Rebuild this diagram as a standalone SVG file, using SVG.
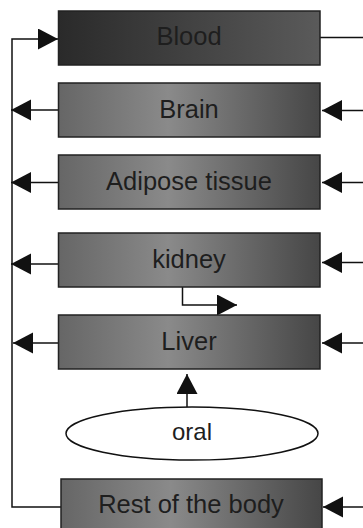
<svg xmlns="http://www.w3.org/2000/svg" width="363" height="528" viewBox="0 0 363 528">
<defs>
<linearGradient id="gDark" x1="0" y1="0" x2="1" y2="0">
<stop offset="0" stop-color="#2a2a2a"/>
<stop offset="1" stop-color="#5a5a5a"/>
</linearGradient>
<linearGradient id="gMid" x1="0" y1="0" x2="1" y2="0">
<stop offset="0" stop-color="#666666"/>
<stop offset="0.42" stop-color="#8a8a8a"/>
<stop offset="1" stop-color="#464646"/>
</linearGradient>
<marker id="ah" markerUnits="userSpaceOnUse" markerWidth="21" markerHeight="22" refX="20" refY="10.5" orient="auto">
<path d="M0,0 L20,10.5 L0,21 z" fill="#111"/>
</marker>
</defs>
<style>
.box{stroke:#222;stroke-width:1.5}
.lbl{font-family:"Liberation Sans",Arial,sans-serif;font-size:25.5px;fill:#1e1e1e;text-anchor:middle}
.ln{fill:none;stroke:#111;stroke-width:1.5}
</style>
<g id="connectors">
<path class="ln" d="M61,507 H12 V39 H58" marker-end="url(#ah)"/>
<path class="ln" d="M320,37.5 H363"/>
<path class="ln" d="M58,110 H11" marker-end="url(#ah)"/>
<path class="ln" d="M363,110.5 H322" marker-end="url(#ah)"/>
<path class="ln" d="M58,182.5 H11" marker-end="url(#ah)"/>
<path class="ln" d="M363,182.5 H322" marker-end="url(#ah)"/>
<path class="ln" d="M58,264 H11" marker-end="url(#ah)"/>
<path class="ln" d="M363,262.5 H322" marker-end="url(#ah)"/>
<path class="ln" d="M182.5,287 V305 H237" marker-end="url(#ah)"/>
<path class="ln" d="M58,343 H13" marker-end="url(#ah)"/>
<path class="ln" d="M363,343 H322" marker-end="url(#ah)"/>
<path class="ln" d="M187,407 V374" marker-end="url(#ah)"/>
<path class="ln" d="M363,507 H323" marker-end="url(#ah)"/>
</g>
<g id="blood">
<rect class="box" x="58.5" y="11" width="261.5" height="54" fill="url(#gDark)"/>
<text class="lbl" x="189" y="45">Blood</text>
</g>
<g id="brain">
<rect class="box" x="58.5" y="83" width="261.5" height="54" fill="url(#gMid)"/>
<text class="lbl" x="189" y="118">Brain</text>
</g>
<g id="adipose">
<rect class="box" x="58.5" y="155" width="261.5" height="54" fill="url(#gMid)"/>
<text class="lbl" x="189" y="189.5">Adipose tissue</text>
</g>
<g id="kidney">
<rect class="box" x="58.5" y="233" width="261.5" height="54" fill="url(#gMid)"/>
<text class="lbl" x="189" y="267.5">kidney</text>
</g>
<g id="liver">
<rect class="box" x="58.5" y="315" width="261.5" height="54" fill="url(#gMid)"/>
<text class="lbl" x="189" y="350">Liver</text>
</g>
<g id="oral">
<ellipse cx="192" cy="433.5" rx="126" ry="26.5" fill="#fff" stroke="#111" stroke-width="1.5"/>
<text class="lbl" x="192" y="440" style="font-size:24px">oral</text>
</g>
<g id="rest">
<rect class="box" x="61" y="479" width="261" height="60" fill="url(#gMid)"/>
<text class="lbl" x="191" y="512.5">Rest of the body</text>
</g>
</svg>
